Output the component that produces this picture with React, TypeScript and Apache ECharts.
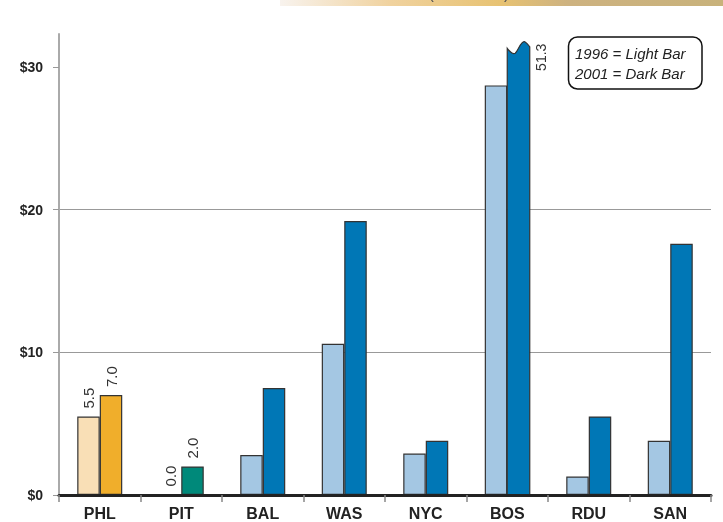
import React, { useEffect, useRef } from "react";
import * as echarts from "echarts";

const categories = ["PHL", "PIT", "BAL", "WAS", "NYC", "BOS", "RDU", "SAN"];
const values1996 = [5.5, 0.0, 2.8, 10.6, 2.9, 28.7, 1.3, 3.8];
const values2001 = [7.0, 2.0, 7.5, 19.2, 3.8, 51.3, 5.5, 17.6];
const yTicks = [0, 10, 20, 30];
const labelledCats = ["PHL", "PIT"];
const legendLines = ["1996 = Light Bar", "2001 = Dark Bar"];

const Y_MAX = 32.3;
const CAP = 31.3;
const BAR_W = 22.5;

const LIGHT = "#a4c7e3";
const DARK = "#0077b6";
const specialLight: Record<string, string> = { PHL: "#f9dfb6" };
const specialDark: Record<string, string> = { PHL: "#f0ae2b", PIT: "#00897a" };

const SANS = "'Liberation Sans', Arial, sans-serif";

export default function App() {
  const ref = useRef<HTMLDivElement>(null);
  useEffect(() => {
    if (!ref.current) return;
    const chart = echarts.init(ref.current, null, { renderer: "svg" });

    const valLabel = {
      show: true,
      position: "top",
      rotate: 90,
      align: "left",
      verticalAlign: "middle",
      distance: 8,
      fontFamily: SANS,
      fontSize: 15,
      color: "#333",
      formatter: (p: any) => Number(p.value).toFixed(1),
    };

    const lightData = values1996.map((v, i) => ({
      value: v,
      itemStyle: { color: specialLight[categories[i]] || LIGHT },
      label: labelledCats.includes(categories[i]) ? valLabel : { show: false },
    }));
    const darkData = values2001.map((v, i) =>
      v > Y_MAX
        ? "-"
        : {
            value: v,
            itemStyle: { color: specialDark[categories[i]] || DARK },
            label: labelledCats.includes(categories[i]) ? valLabel : { show: false },
          }
    );
    const brokenData = values2001
      .map((v, i) => [i, v])
      .filter((d) => d[1] > Y_MAX);

    const option: any = {
      animation: false,
      grid: { left: 59, right: 12, top: 34, bottom: 27, containLabel: false },
      xAxis: {
        type: "category",
        data: categories,
        z: 5,
        axisLine: { show: true, lineStyle: { color: "#222", width: 3 } },
        axisTick: { show: true, length: 7, lineStyle: { color: "#888", width: 1.5 } },
        axisLabel: {
          margin: 10,
          fontFamily: SANS,
          fontWeight: "bold",
          fontSize: 16,
          color: "#222",
        },
      },
      yAxis: {
        type: "value",
        min: 0,
        max: Y_MAX,
        interval: 10,
        axisLine: { show: true, lineStyle: { color: "#aaa", width: 2 } },
        axisTick: { show: true, length: 6, customValues: yTicks, lineStyle: { color: "#999", width: 1 } },
        axisLabel: {
          customValues: yTicks,
          margin: 16,
          formatter: (v: number) => "$" + v,
          fontFamily: SANS,
          fontWeight: "bold",
          fontSize: 14,
          color: "#222",
        },
        splitLine: { show: true, showMaxLine: false, lineStyle: { color: "#999", width: 1 } },
      },
      series: [
        {
          type: "bar",
          data: lightData,
          barWidth: BAR_W,
          barGap: "0%",
          itemStyle: { borderColor: "#333", borderWidth: 1.2 },
        },
        {
          type: "bar",
          data: darkData,
          barWidth: BAR_W,
          barGap: "0%",
          itemStyle: { borderColor: "#333", borderWidth: 1.2 },
        },
        {
          type: "custom",
          data: brokenData,
          z: 3,
          renderItem: (params: any, api: any) => {
            const idx = api.value(0);
            const val = api.value(1);
            const base = api.coord([idx, 0]);
            const x0 = base[0];
            const yb = base[1];
            const yc = api.coord([idx, CAP])[1];
            const w = BAR_W;
            const d =
              `M ${x0} ${yb} L ${x0} ${yc} ` +
              `C ${x0 + 3} ${yc + 4} ${x0 + 5.5} ${yc + 6.5} ${x0 + 8} ${yc + 5} ` +
              `C ${x0 + 11} ${yc + 2} ${x0 + 14} ${yc - 8} ${x0 + 17.5} ${yc - 6.5} ` +
              `C ${x0 + 20} ${yc - 5} ${x0 + 21.5} ${yc - 3} ${x0 + w} ${yc - 1.5} ` +
              `L ${x0 + w} ${yb} Z`;
            return {
              type: "group",
              children: [
                {
                  type: "path",
                  shape: { pathData: d },
                  style: { fill: DARK, stroke: "#333", lineWidth: 1.2 },
                },
                {
                  type: "text",
                  x: x0 + w + 11,
                  y: yc + 9,
                  rotation: Math.PI / 2,
                  style: {
                    text: Number(val).toFixed(1),
                    font: `14px ${SANS}`,
                    fill: "#333",
                    align: "center",
                    verticalAlign: "middle",
                  },
                },
              ],
            };
          },
        },
      ],
      graphic: [
        {
          type: "rect",
          left: 280,
          top: 0,
          shape: { x: 0, y: 0, width: 443, height: 6 },
          style: {
            fill: new echarts.graphic.LinearGradient(0, 0, 1, 0, [
              { offset: 0, color: "#f8f3ee" },
              { offset: 0.25, color: "#f0d29e" },
              { offset: 0.5, color: "#e7c272" },
              { offset: 0.65, color: "#cdb280" },
              { offset: 1, color: "#c8b27b" },
            ]),
          },
          z: 10,
        },
        {
          type: "text",
          x: 469,
          y: 1,
          style: {
            text: "(in millions)",
            font: `16px ${SANS}`,
            fill: "#555",
            align: "center",
            verticalAlign: "bottom",
          },
          z: 11,
        },
        {
          type: "group",
          z: 100,
          children: [
            {
              type: "rect",
              shape: { x: 568.5, y: 37, width: 133.5, height: 52, r: 9 },
              style: { fill: "#fff", stroke: "#111", lineWidth: 1.5 },
              z: 100,
            },
            {
              type: "text",
              x: 575,
              y: 53,
              style: {
                text: legendLines[0],
                font: `italic 15px ${SANS}`,
                fill: "#222",
                align: "left",
                verticalAlign: "middle",
              },
              z: 101,
            },
            {
              type: "text",
              x: 575,
              y: 73.5,
              style: {
                text: legendLines[1],
                font: `italic 15px ${SANS}`,
                fill: "#222",
                align: "left",
                verticalAlign: "middle",
              },
              z: 101,
            },
          ],
        },
      ],
    };
    chart.setOption(option);
    return () => chart.dispose();
  }, []);

  return <div ref={ref} style={{ width: 723, height: 522, position: "fixed", left: 0, top: 0 }} />;
}
